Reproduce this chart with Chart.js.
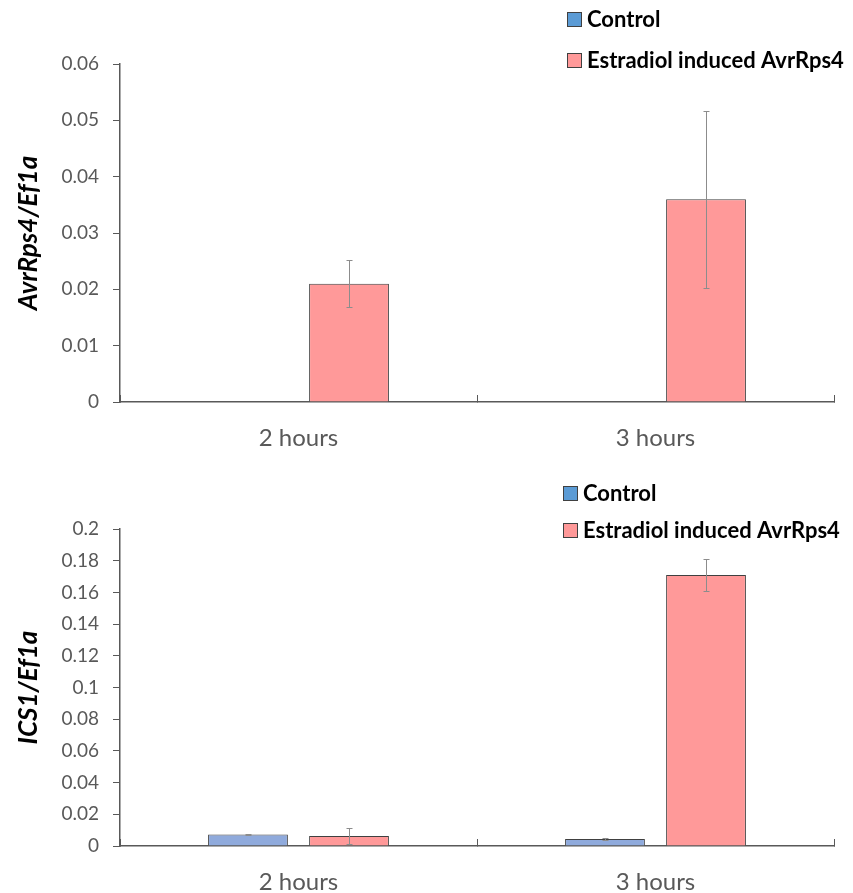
<!DOCTYPE html>
<html>
<head>
<meta charset="utf-8">
<script src="https://cdn.jsdelivr.net/npm/chart.js@4.4.1/dist/chart.umd.min.js"></script>
<style>
  html, body { margin: 0; padding: 0; background: #fff; }
  .panel { position: absolute; left: 0; width: 853px; }
</style>
</head>
<body>
<div class="panel" style="top:0;height:450px"><canvas id="avrChart" width="853" height="450"></canvas></div>
<div class="panel" style="top:450px;height:443px"><canvas id="icsChart" width="853" height="443"></canvas></div>
<script>
// Données
const categories = ['2 hours', '3 hours'];
const seriesNames = ['Control', 'Estradiol induced AvrRps4'];

const avrControl = [0, 0.0001];
const avrControlErr = [0, 0];
const avrInduced = [0.021, 0.036];
const avrInducedErr = [0.0042, 0.0157];
const avrTickValues = [0, 0.01, 0.02, 0.03, 0.04, 0.05, 0.06];

const icsControl = [0.0072, 0.0044];
const icsControlErr = [0.0004, 0.0004];
const icsInduced = [0.0063, 0.171];
const icsInducedErr = [0.005, 0.0102];
const icsTickValues = [0, 0.02, 0.04, 0.06, 0.08, 0.1, 0.12, 0.14, 0.16, 0.18, 0.2];

const axisColor = '#595959';
const fontFamily = 'Lato, "Open Sans", sans-serif';

// Barres d'erreur
const errorBars = {
    id: 'errorBars',
    afterDatasetsDraw(chart) {
        const ctx = chart.ctx;
        const yScale = chart.scales.y;
        chart.data.datasets.forEach((ds, i) => {
            if (!ds.errors) return;
            const meta = chart.getDatasetMeta(i);
            meta.data.forEach((bar, j) => {
                const err = ds.errors[j];
                if (!err) return;
                const v = ds.data[j];
                const top = Math.round(yScale.getPixelForValue(v + err)) + 0.5;
                const bottom = Math.round(yScale.getPixelForValue(Math.max(v - err, 0))) + 0.5;
                const x = Math.round(bar.x) + 0.5;
                ctx.save();
                ctx.strokeStyle = '#8c8c8c';
                ctx.lineWidth = 1;
                ctx.beginPath();
                ctx.moveTo(x, top); ctx.lineTo(x, bottom);
                ctx.moveTo(x - 3, top); ctx.lineTo(x + 3, top);
                ctx.moveTo(x - 3, bottom); ctx.lineTo(x + 3, bottom);
                ctx.stroke();
                ctx.restore();
            });
        });
    }
};

// Légende verticale en haut à droite
const cornerLegend = {
    id: 'cornerLegend',
    afterDraw(chart, args, opts) {
        const ctx = chart.ctx;
        ctx.save();
        ctx.font = 'bold 22px ' + fontFamily;
        ctx.textBaseline = 'middle';
        chart.data.datasets.forEach((ds, i) => {
            const y = opts.top + i * opts.gap;
            ctx.fillStyle = ds.legendColor;
            ctx.fillRect(opts.left, y - 7, 15, 15);
            ctx.strokeStyle = '#404040';
            ctx.lineWidth = 1;
            ctx.strokeRect(opts.left + 0.5, y - 6.5, 14, 14);
            ctx.fillStyle = '#000';
            ctx.fillText(ds.label, opts.left + 20, y + 1);
        });
        ctx.restore();
    }
};

function makeChart(canvasId, controlVals, controlErr, inducedVals, inducedErr, tickValues, title, areaTop, axisHeight, legendPos) {
    const ctx = document.getElementById(canvasId).getContext('2d');
    return new Chart(ctx, {
        type: 'bar',
        data: {
            labels: categories,
            datasets: [{
                label: seriesNames[0],
                data: controlVals,
                errors: controlErr,
                backgroundColor: '#8faadc',
                legendColor: '#5b9bd5',
                borderColor: '#404040',
                borderWidth: 1
            }, {
                label: seriesNames[1],
                data: inducedVals,
                errors: inducedErr,
                backgroundColor: '#ff9999',
                legendColor: '#ff9999',
                borderColor: '#404040',
                borderWidth: 1
            }]
        },
        options: {
            responsive: false,
            animation: false,
            categoryPercentage: 0.566,
            barPercentage: 0.79,
            layout: { padding: { top: areaTop, right: 19, left: 0, bottom: 0 } },
            plugins: {
                legend: { display: false },
                tooltip: { enabled: false },
                cornerLegend: legendPos
            },
            scales: {
                x: {
                    grid: {
                        offset: true,
                        drawOnChartArea: false,
                        tickLength: -7,
                        color: axisColor
                    },
                    border: { color: axisColor, width: 1.5 },
                    ticks: {
                        color: axisColor,
                        padding: 29,
                        font: { family: fontFamily, size: 24 }
                    },
                    afterFit: (scale) => { scale.height = axisHeight; }
                },
                y: {
                    min: tickValues[0],
                    max: tickValues[tickValues.length - 1],
                    afterBuildTicks: (scale) => { scale.ticks = tickValues.map(v => ({ value: v })); },
                    grid: { drawOnChartArea: false, tickLength: 7, color: axisColor },
                    border: { color: axisColor, width: 1.5 },
                    ticks: {
                        color: axisColor,
                        padding: 14,
                        font: { family: fontFamily, size: 19 },
                        callback: (v) => String(Math.round(v * 1000) / 1000)
                    },
                    title: {
                        display: true,
                        text: title,
                        color: '#000',
                        padding: { top: 13, bottom: 0 },
                        font: { family: fontFamily, size: 26, weight: 'bold', style: 'italic' }
                    },
                    afterFit: (scale) => { scale.width = 120; }
                }
            }
        },
        plugins: [errorBars, cornerLegend]
    });
}

makeChart('avrChart', avrControl, avrControlErr, avrInduced, avrInducedErr, avrTickValues,
    'AvrRps4/Ef1a', 64, 48, { left: 567, top: 19, gap: 41 });
makeChart('icsChart', icsControl, icsControlErr, icsInduced, icsInducedErr, icsTickValues,
    'ICS1/Ef1a', 79, 47, { left: 563, top: 43, gap: 37 });
</script>
</body>
</html>
